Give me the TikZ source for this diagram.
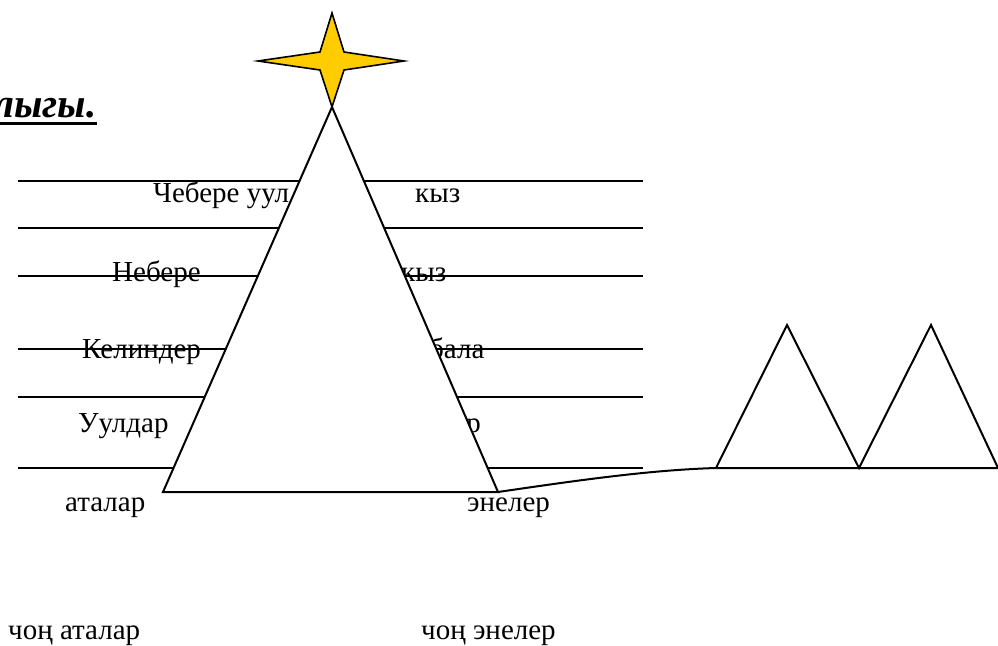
\documentclass[tikz,border=0pt]{standalone}
\usepackage{fontspec}
\setmainfont{Liberation Serif}
\begin{document}
\begin{tikzpicture}[x=1pt,y=-1pt,
  lbl/.style={anchor=base west,inner sep=0pt,font=\fontsize{29}{33}\selectfont},
  rule/.style={line width=2pt},
  edge/.style={line width=2pt,line join=miter}]
\useasboundingbox (0,0) rectangle (998,645);
% title fragment
\node[anchor=base west,inner sep=0pt,font=\fontsize{41}{45}\selectfont\bfseries\itshape] (title) at (-7,117) {лыгы.};
\draw[line width=3pt] (0,123) -- (97,123);
% labels (behind the triangle)
\node[lbl] (l1) at (153,202) {Чебере уул};
\node[lbl] (r1) at (415,202) {кыз};
\node[lbl] (l2) at (112,281) {Небере};
\node[lbl] (r2) at (401,281) {кыз};
\node[lbl] (l3) at (82,358) {Келиндер};
\node[lbl] (r3) at (429,358) {бала};
\node[lbl] (l4) at (78,432) {Уулдар};
\node[lbl] (r4) at (394,432) {кыздар};
% horizontal lines
\foreach \yy in {181,228,276,349,397,468}
  \draw[rule] (18,\yy) -- (643,\yy);
% big triangle
\coordinate (apex) at (332,107);
\coordinate (bl) at (163,492);
\coordinate (br) at (498,492);
\draw[edge,fill=white] (apex) -- (bl) -- (br) -- cycle;
% star
\draw[line width=1.6pt,fill={rgb,255:red,255;green,204;blue,0},line join=miter]
  (332,13) -- (344,52) -- (404,61) -- (344,70) -- (332,107) -- (320,70) -- (258,61) -- (320,52) -- cycle;
% base labels
\node[lbl] (at1) at (65,511) {аталар};
\node[lbl] (en1) at (467,511) {энелер};
\node[lbl] (at2) at (8,639) {чоң аталар};
\node[lbl] (en2) at (421,639) {чоң энелер};
% connector and small triangles
\coordinate (s1l) at (716,468);
\coordinate (s1a) at (787,325);
\coordinate (s1r) at (859,468);
\coordinate (s2a) at (931,325);
\coordinate (s2r) at (998,468);
\draw[edge] (br) .. controls (580,480) and (650,470) .. (s1l) -- (s2r);
\draw[edge] (s1l) -- (s1a) -- (s1r) -- (s2a) -- (s2r);
\end{tikzpicture}
\end{document}
